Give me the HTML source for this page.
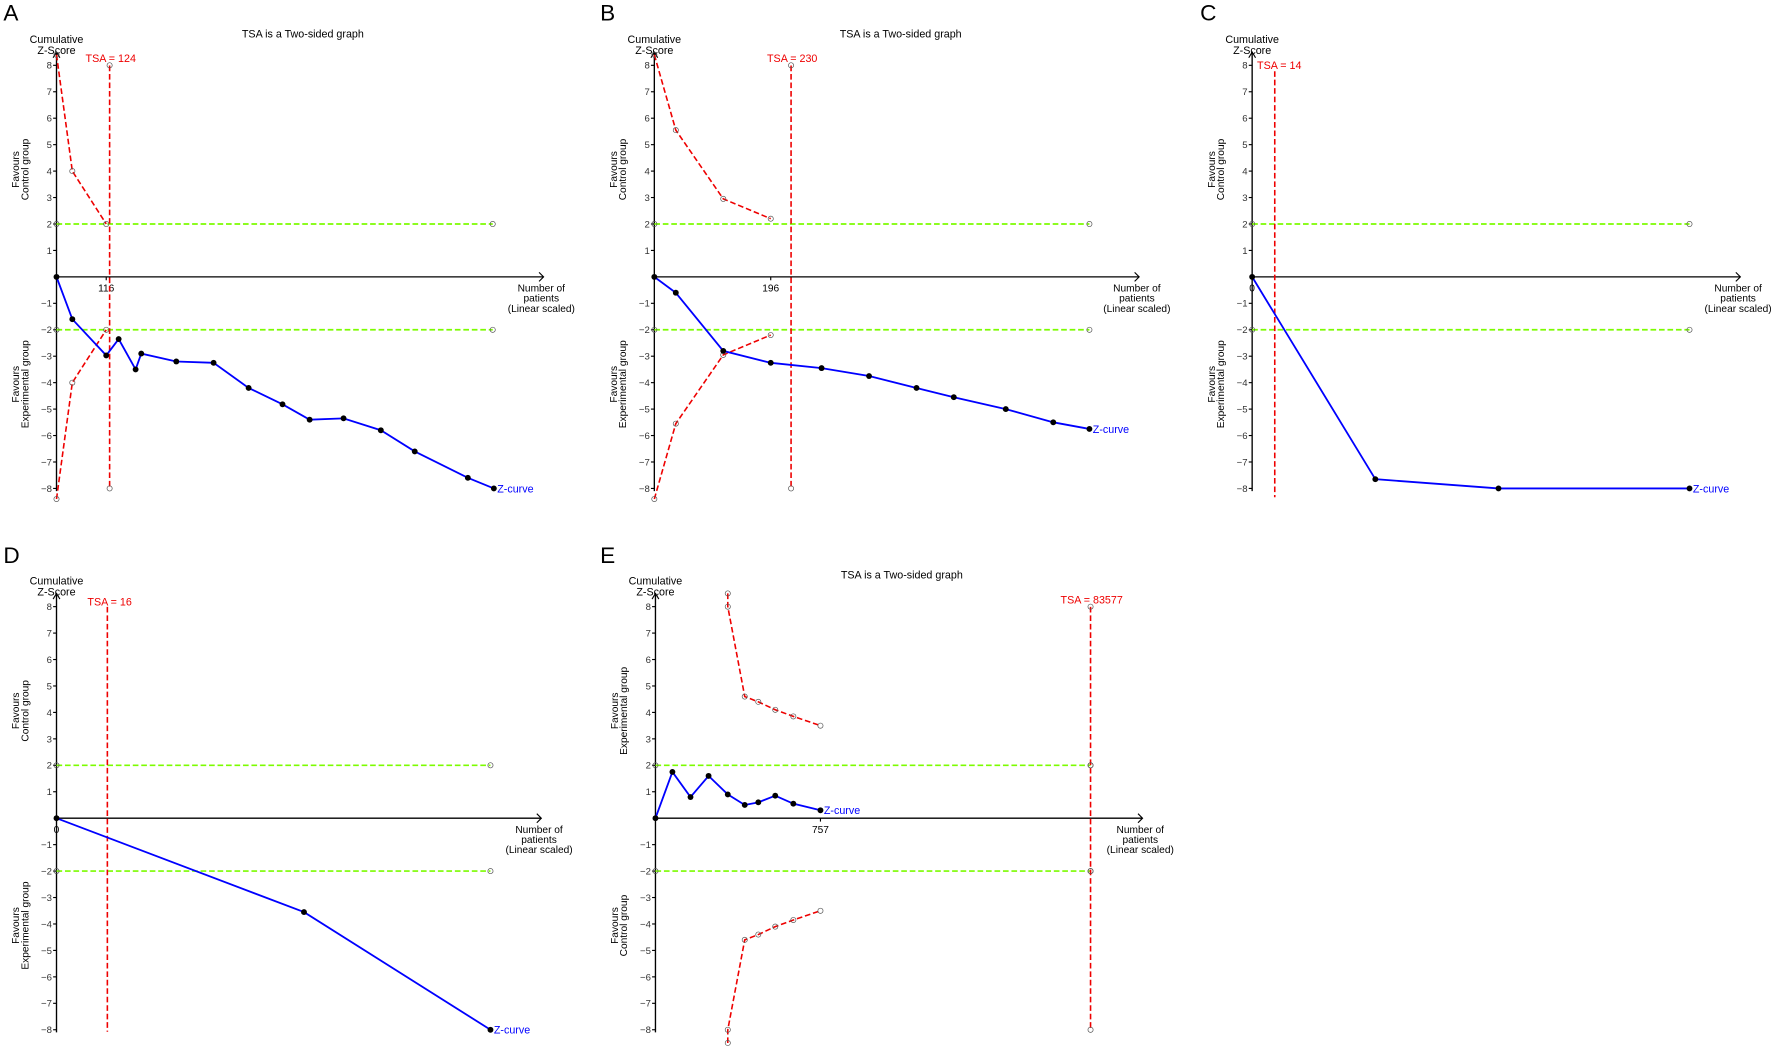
<!DOCTYPE html>
<html><head><meta charset="utf-8"><style>
html,body{margin:0;padding:0;background:#fff;}
svg{display:block;font-family:"Liberation Sans",Arial,sans-serif;}
</style></head><body>
<svg id="s" width="1772" height="1051" viewBox="0 0 1568 930" preserveAspectRatio="none" xmlns="http://www.w3.org/2000/svg"></svg>
<script>
const S=document.getElementById('s');let h='';
const U=23.4;
function panel(c){
 const ax=c.ax,y0=c.y0,Y=z=>y0-z*U;
 h+=`<text x="${c.lx}" y="${c.ly}" font-size="20">${c.letter}</text>`;
 if(c.title)h+=`<text x="${ax+218}" y="${y0-212}" font-size="9.5" text-anchor="middle">TSA is a Two-sided graph</text>`;
 h+=`<text x="${ax}" y="${y0-207}" font-size="9.5" text-anchor="middle">Cumulative</text><text x="${ax}" y="${y0-197}" font-size="9.5" text-anchor="middle">Z-Score</text>`;
 // y axis
 h+=`<line x1="${ax}" y1="${Y(8.5)}" x2="${ax}" y2="${Y(-8.1)}" stroke="#000" stroke-width="1.2"/><path d="M${ax-3},${Y(8.5)+5} L${ax},${Y(8.5)} L${ax+3},${Y(8.5)+5}" fill="none" stroke="#000"/>`;
 for(let z=-8;z<=8;z++){if(!z)continue;h+=`<line x1="${ax-3}" y1="${Y(z)}" x2="${ax}" y2="${Y(z)}" stroke="#000"/><text x="${ax-4}" y="${Y(z)+3}" font-size="8.5" text-anchor="end" fill="#333">${z<0?'−'+(-z):z}</text>`;}
 // x axis
 h+=`<line x1="${ax}" y1="${y0}" x2="${c.arrow}" y2="${y0}" stroke="#000" stroke-width="1.2"/><path d="M${c.arrow-4},${y0-4} L${c.arrow},${y0} L${c.arrow-4},${y0+4}" fill="none" stroke="#000"/>`;
 const nx=c.arrow-2;
 h+=`<text x="${nx}" y="${y0+13}" font-size="9" text-anchor="middle">Number of</text><text x="${nx}" y="${y0+22}" font-size="9" text-anchor="middle">patients</text><text x="${nx}" y="${y0+31}" font-size="9" text-anchor="middle">(Linear scaled)</text>`;
 if(c.tick){h+=`<line x1="${c.tick[0]}" y1="${y0}" x2="${c.tick[0]}" y2="${y0+3}" stroke="#000"/><text x="${c.tick[0]}" y="${y0+13}" font-size="9" text-anchor="middle">${c.tick[1]}</text>`;}
 // side labels
 const lab=(t1,t2,cy)=>{h+=`<text transform="translate(${ax-33},${cy}) rotate(-90)" font-size="9" text-anchor="middle">${t1}</text><text transform="translate(${ax-25},${cy}) rotate(-90)" font-size="9" text-anchor="middle">${t2}</text>`;};
 lab('Favours',c.top,y0-95);lab('Favours',c.bot,y0+95);
 // green
 for(const g of [2,-2]){h+=`<line x1="${ax}" y1="${Y(g)}" x2="${c.gend}" y2="${Y(g)}" stroke="#7CFC00" stroke-width="1.5" stroke-dasharray="5,2.5"/><circle cx="${ax}" cy="${Y(g)}" r="2.3" fill="none" stroke="#555" stroke-width="0.6"/><circle cx="${c.gend}" cy="${Y(g)}" r="2.3" fill="none" stroke="#555" stroke-width="0.6"/>`;}
 // red boundaries
 const poly=(pts,col,dash,w)=>{h+=`<polyline points="${pts.map(p=>p[0]+','+Y(p[1])).join(' ')}" fill="none" stroke="${col}" stroke-width="${w}" ${dash?'stroke-dasharray="5,2.5"':''}/>`;};
 if(c.red){for(const sg of [1,-1]){const p=c.red.map(q=>[q[0],q[1]*sg]);poly(p,'#e00',1,1.4);p.forEach(q=>h+=`<circle cx="${q[0]}" cy="${Y(q[1])}" r="2.3" fill="none" stroke="#555" stroke-width="0.6"/>`);}}
 // TSA vertical
 h+=`<line x1="${c.tsa}" y1="${c.tsaTop}" x2="${c.tsa}" y2="${c.tsaBot}" stroke="#e00" stroke-width="1.4" stroke-dasharray="5,2.5"/>`;
 if(c.tsaC){for(const z of c.tsaC)h+=`<circle cx="${c.tsa}" cy="${Y(z)}" r="2.3" fill="none" stroke="#555" stroke-width="0.6"/>`;}
 h+=`<text x="${c.tlx}" y="${c.tly}" font-size="9.5" fill="#e00" text-anchor="middle">${c.tsaLabel}</text>`;
 // z curve
 poly(c.z,'#00f',0,1.6);
 c.z.forEach(q=>h+=`<circle cx="${q[0]}" cy="${Y(q[1])}" r="2.6" fill="#000"/>`);
 const L=c.z[c.z.length-1];h+=`<text x="${L[0]+3}" y="${Y(L[1])+3.5}" font-size="9.5" fill="#00f">Z-curve</text>`;
}
panel({letter:'A',lx:3,ly:18,ax:50,y0:245,title:1,arrow:481,gend:436,tick:[94,116],top:'Control group',bot:'Experimental group',
 red:[[50,8.4],[64,4],[94,2]],tsa:97,tsaTop:58,tsaBot:433,tsaC:[8,-8],tsaLabel:'TSA = 124',tlx:98,tly:55,
 z:[[50,0],[64,-1.6],[94,-2.97],[105,-2.35],[120,-3.5],[125,-2.9],[156,-3.2],[189,-3.25],[220,-4.2],[250,-4.82],[274,-5.4],[304,-5.35],[337,-5.8],[367,-6.6],[414,-7.6],[437,-8]]});
panel({letter:'B',lx:531,ly:18,ax:579,y0:245,title:1,arrow:1008,gend:964,tick:[682,196],top:'Control group',bot:'Experimental group',
 red:[[579,8.4],[598,5.55],[640,2.95],[682,2.2]],tsa:700,tsaTop:58,tsaBot:433,tsaC:[8,-8],tsaLabel:'TSA = 230',tlx:701,tly:55,
 z:[[579,0],[598,-0.6],[640,-2.8],[682,-3.25],[727,-3.45],[769,-3.75],[811,-4.2],[844,-4.55],[890,-5],[932,-5.5],[964,-5.75]]});
panel({letter:'C',lx:1062,ly:18,ax:1108,y0:245,title:0,arrow:1540,gend:1495,tick:[1108,0],top:'Control group',bot:'Experimental group',
 tsa:1128,tsaTop:63,tsaBot:440,tsaLabel:'TSA = 14',tlx:1132,tly:61,
 z:[[1108,0],[1217,-7.65],[1326,-8],[1495,-8]]});
panel({letter:'D',lx:3,ly:498,ax:50,y0:724,title:0,arrow:479,gend:434,tick:[50,0],top:'Control group',bot:'Experimental group',
 tsa:95,tsaTop:537,tsaBot:913,tsaLabel:'TSA = 16',tlx:97,tly:536,
 z:[[50,0],[269,-3.55],[434,-8]]});
panel({letter:'E',lx:531,ly:498,ax:580,y0:724,title:1,arrow:1011,gend:965,tick:[726,757],top:'Experimental group',bot:'Control group',
 red:[[644,8.5],[644,8],[659,4.6],[671,4.4],[686,4.1],[702,3.85],[726,3.5]],tsa:965,tsaTop:537,tsaBot:911,tsaC:[8,-8,2,-2],tsaLabel:'TSA = 83577',tlx:966,tly:534,
 z:[[580,0],[595,1.75],[611,0.8],[627,1.6],[644,0.9],[659,0.5],[671,0.6],[686,0.85],[702,0.55],[726,0.3]]});
S.innerHTML=h;
</script>
</body></html>
